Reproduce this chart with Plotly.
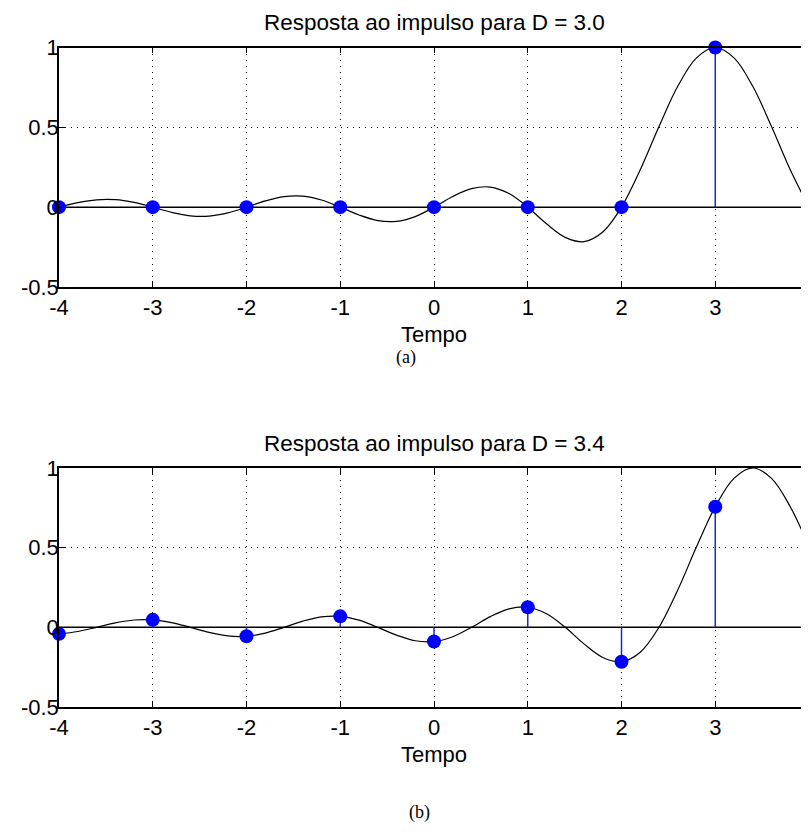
import plotly.graph_objects as go

# ---------------- data ----------------
TIME_FINE = [-4.0, -3.8, -3.6, -3.4, -3.2, -3.0, -2.8, -2.6, -2.4, -2.2,
             -2.0, -1.8, -1.6, -1.4, -1.2, -1.0, -0.8, -0.6, -0.4, -0.2,
             0.0, 0.2, 0.4, 0.6, 0.8, 1.0, 1.2, 1.4, 1.6, 1.8,
             2.0, 2.2, 2.4, 2.6, 2.8, 3.0, 3.2, 3.4, 3.6, 3.8, 4.0]

CURVE_D30 = [0.000, 0.028, 0.046, 0.047, 0.030, 0.000, -0.032, -0.054, -0.056, -0.036,
             0.000, 0.039, 0.066, 0.069, 0.045, 0.000, -0.049, -0.084, -0.089, -0.059,
             0.000, 0.067, 0.116, 0.126, 0.085, 0.000, -0.104, -0.189, -0.216, -0.156,
             0.000, 0.234, 0.505, 0.757, 0.935, 1.000, 0.935, 0.757, 0.505, 0.234, 0.000]

CURVE_D34 = [-0.041, -0.026, 0.000, 0.028, 0.046, 0.047, 0.030, 0.000, -0.032, -0.054,
             -0.056, -0.036, 0.000, 0.039, 0.066, 0.069, 0.045, 0.000, -0.049, -0.084,
             -0.089, -0.059, 0.000, 0.067, 0.116, 0.126, 0.085, 0.000, -0.104, -0.189,
             -0.216, -0.156, 0.000, 0.234, 0.505, 0.757, 0.935, 1.000, 0.935, 0.757, 0.505]

SAMPLE_T = [-4, -3, -2, -1, 0, 1, 2, 3, 4]
STEM_D30 = [0.0, 0.0, 0.0, 0.0, 0.0, 0.0, 0.0, 1.0, 0.0]
STEM_D34 = [-0.041, 0.047, -0.056, 0.069, -0.089, 0.126, -0.216, 0.757, 0.505]

X_TICKS = [-4, -3, -2, -1, 0, 1, 2, 3, 4]
X_TICK_TEXT = ["-4", "-3", "-2", "-1", "0", "1", "2", "3", "4"]
Y_TICKS = [-0.5, 0, 0.5, 1]
Y_TICK_TEXT = ["-0.5", "0", "0.5", "1"]

TITLES = ["Resposta ao impulso para D = 3.0", "Resposta ao impulso para D = 3.4"]
XLABEL = "Tempo"
CAPTIONS = ["(a)", "(b)"]

# ---------------- styling ----------------
OFF = 8                      # page body margin
W, H = 809 - OFF, 834 - 2 * OFF
ML = 59 - OFF                # left margin (figure px)
PW = W - ML                  # plot-area width
FONT = "Liberation Sans, Arial, sans-serif"
SERIF = "Liberation Serif, Times New Roman, serif"
FS = 22
BLUE = "#0000ff"
STEM_BLUE = "#1a2cc8"

def py(y_page):
    return 1 - (y_page - OFF) / H

def px(x_page):
    return (x_page - OFF - ML) / PW

fig = go.Figure()

panels = [
    dict(curve=CURVE_D30, stem=STEM_D30, xa="x", ya="y"),
    dict(curve=CURVE_D34, stem=STEM_D34, xa="x2", ya="y2"),
]

for p in panels:
    fig.add_trace(go.Scatter(
        x=[X_TICKS[0], X_TICKS[-1]], y=[0, 0], mode="lines",
        line=dict(color="black", width=1.5),
        xaxis=p["xa"], yaxis=p["ya"], showlegend=False, hoverinfo="skip"))
    fig.add_trace(go.Scatter(
        x=TIME_FINE, y=p["curve"], mode="lines",
        line=dict(color="black", width=1.2, shape="spline", smoothing=1.0),
        xaxis=p["xa"], yaxis=p["ya"], showlegend=False, hoverinfo="skip"))
    sx, sy = [], []
    for t, v in zip(SAMPLE_T, p["stem"]):
        sx += [t, t, None]
        sy += [0, v, None]
    fig.add_trace(go.Scatter(
        x=sx, y=sy, mode="lines", line=dict(color=STEM_BLUE, width=1.5),
        xaxis=p["xa"], yaxis=p["ya"], showlegend=False, hoverinfo="skip"))
    fig.add_trace(go.Scatter(
        x=SAMPLE_T, y=p["stem"], mode="markers",
        marker=dict(color=BLUE, size=14, line=dict(width=0)),
        cliponaxis=False,
        xaxis=p["xa"], yaxis=p["ya"], showlegend=False))

axis_common = dict(
    showline=True, linecolor="black", linewidth=1.5, mirror="allticks",
    ticks="inside", ticklen=6, tickwidth=1.2, tickcolor="black",
    showgrid=True, gridcolor="black", gridwidth=1.2, griddash="1px,5px",
    zeroline=False, automargin=False,
    tickfont=dict(family=FONT, size=FS, color="black"),
)

dom_top = [py(287), py(47.5)]
dom_bot = [py(707), py(468)]

fig.update_layout(
    width=W, height=H,
    margin=dict(l=ML, r=0, t=0, b=0, autoexpand=False),
    paper_bgcolor="white", plot_bgcolor="white",
    xaxis=dict(axis_common, range=[-4, 4], tickvals=X_TICKS, ticktext=X_TICK_TEXT,
               anchor="y"),
    yaxis=dict(axis_common, range=[-0.5, 1], tickvals=Y_TICKS, ticktext=Y_TICK_TEXT,
               domain=dom_top, anchor="x", ticklabelstandoff=-6),
    xaxis2=dict(axis_common, range=[-4, 4], tickvals=X_TICKS, ticktext=X_TICK_TEXT,
                anchor="y2"),
    yaxis2=dict(axis_common, range=[-0.5, 1], tickvals=Y_TICKS, ticktext=Y_TICK_TEXT,
                domain=dom_bot, anchor="x2", ticklabelstandoff=-6),
)

cx = px((59 + 809) / 2)
ann = []
for title, ty, xl_y, cap, cap_x, cap_y in [
    (TITLES[0], 22, 334, CAPTIONS[0], 406, 357),
    (TITLES[1], 443, 754, CAPTIONS[1], 419, 812),
]:
    ann.append(dict(text=title, x=cx, y=py(ty), xref="paper", yref="paper",
                    xanchor="center", yanchor="middle", showarrow=False,
                    font=dict(family=FONT, size=FS + 0.5, color="black")))
    ann.append(dict(text=XLABEL, x=cx, y=py(xl_y), xref="paper", yref="paper",
                    xanchor="center", yanchor="middle", showarrow=False,
                    font=dict(family=FONT, size=FS, color="black")))
    ann.append(dict(text=cap, x=px(cap_x), y=py(cap_y), xref="paper", yref="paper",
                    xanchor="center", yanchor="middle", showarrow=False,
                    font=dict(family=SERIF, size=18, color="black")))
fig.update_layout(annotations=ann)

fig.write_html("out.html")
